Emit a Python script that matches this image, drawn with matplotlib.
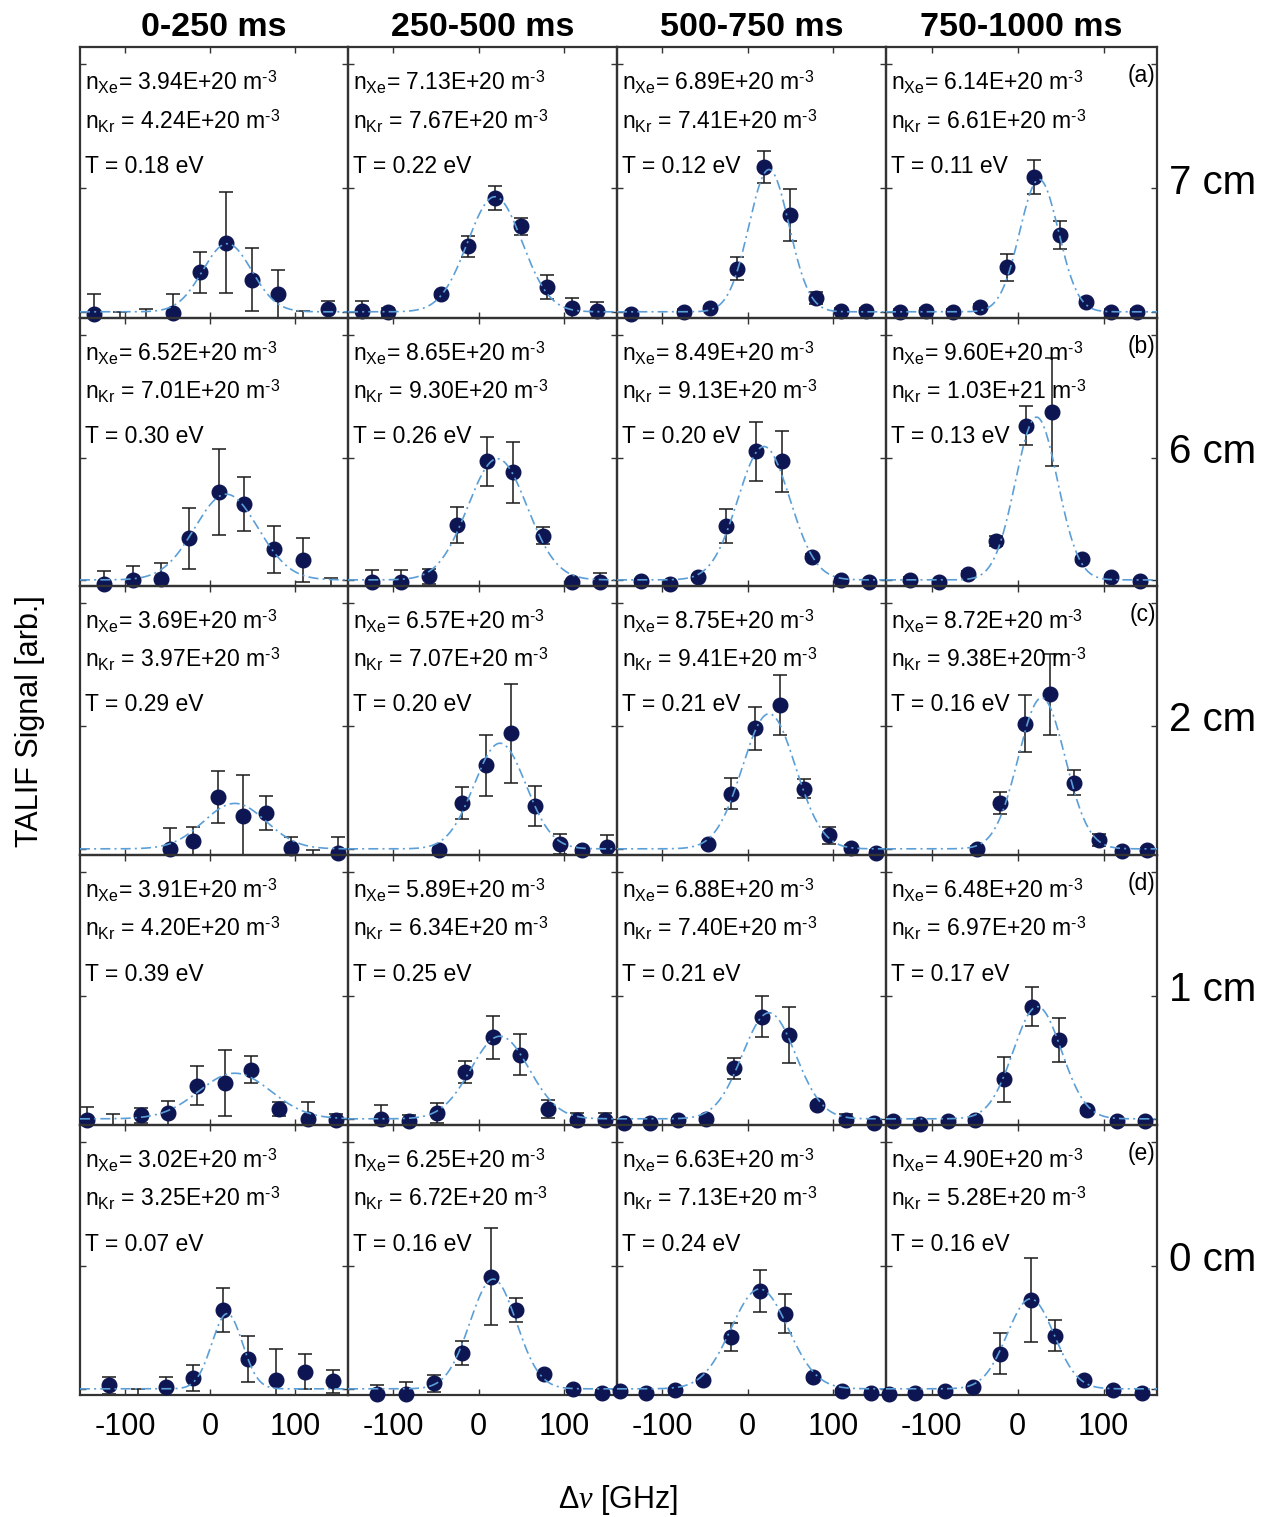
import numpy as np
import matplotlib.pyplot as plt

plt.rcParams['font.family'] = ['Liberation Sans', 'DejaVu Sans']
plt.rcParams['mathtext.fontset'] = 'custom'
plt.rcParams['mathtext.rm'] = 'Liberation Sans'
plt.rcParams['mathtext.it'] = 'Liberation Serif:italic'
plt.rcParams['mathtext.bf'] = 'Liberation Sans:bold'
plt.rcParams['axes.unicode_minus'] = False

windows = ['0-250 ms', '250-500 ms', '500-750 ms', '750-1000 ms']
positions = ['7 cm', '6 cm', '2 cm', '1 cm', '0 cm']
tags = ['(a)', '(b)', '(c)', '(d)', '(e)']

# fitted densities [m^-3] and temperatures [eV], rows = axial position
n_xe = [[3.94e20, 7.13e20, 6.89e20, 6.14e20],
        [6.52e20, 8.65e20, 8.49e20, 9.60e20],
        [3.69e20, 6.57e20, 8.75e20, 8.72e20],
        [3.91e20, 5.89e20, 6.88e20, 6.48e20],
        [3.02e20, 6.25e20, 6.63e20, 4.90e20]]
n_kr = [[4.24e20, 7.67e20, 7.41e20, 6.61e20],
        [7.01e20, 9.30e20, 9.13e20, 1.03e21],
        [3.97e20, 7.07e20, 9.41e20, 9.38e20],
        [4.20e20, 6.34e20, 7.40e20, 6.97e20],
        [3.25e20, 6.72e20, 7.13e20, 5.28e20]]
temp_ev = [[0.18, 0.22, 0.12, 0.11],
           [0.30, 0.26, 0.20, 0.13],
           [0.29, 0.20, 0.21, 0.16],
           [0.39, 0.25, 0.21, 0.17],
           [0.07, 0.16, 0.24, 0.16]]

nan = np.nan

# 7 cm
freq_7cm = [-137, -106, -75, -44, -12, 19, 49, 80, 109, 139]
sig_7cm = [[-0.02, -0.07, -0.07, -0.01, 0.32, 0.56, 0.26, 0.14, -0.06, 0.02],
           [0.01, 0.00, nan, 0.14, 0.53, 0.92, 0.69, 0.20, 0.03, 0.01],
           [-0.02, nan, 0.00, 0.03, 0.35, 1.17, 0.78, 0.11, 0.01, 0.01],
           [0.00, 0.01, 0.00, 0.04, 0.36, 1.09, 0.62, 0.08, 0.00, 0.00]]
err_7cm = [[0.16, 0.07, 0.09, 0.15, 0.165, 0.41, 0.255, 0.20, 0.07, 0.07],
           [0.08, 0.03, nan, 0.02, 0.085, 0.10, 0.07, 0.095, 0.08, 0.07],
           [0.02, nan, 0.02, 0.02, 0.09, 0.13, 0.21, 0.05, 0.02, 0.02],
           [0.02, 0.02, 0.02, 0.02, 0.11, 0.135, 0.11, 0.02, 0.02, 0.02]]

# 6 cm
freq_6cm = [-125, -91, -58, -25, 10, 40, 75, 109, 142]
sig_6cm = [[-0.03, 0.00, 0.01, 0.34, 0.72, 0.62, 0.25, 0.165, -0.06],
           [-0.02, -0.02, 0.03, 0.45, 0.97, 0.88, 0.36, -0.02, -0.02],
           [-0.01, -0.03, 0.02, 0.44, 1.05, 0.97, 0.19, 0.00, -0.02],
           [0.00, -0.02, 0.05, 0.32, 1.26, 1.37, 0.17, 0.02, -0.01]]
err_6cm = [[0.10, 0.11, 0.13, 0.25, 0.35, 0.22, 0.19, 0.18, 0.075],
           [0.10, 0.10, 0.06, 0.145, 0.20, 0.25, 0.07, 0.02, 0.08],
           [0.02, 0.02, 0.02, 0.14, 0.24, 0.25, 0.02, 0.02, 0.02],
           [0.02, 0.02, 0.02, 0.04, 0.16, 0.44, 0.02, 0.02, 0.02]]

# 2 cm
freq_2cm = [-47, -20, 9, 38, 66, 95, 121, 150]
sig_2cm = [[0.00, 0.06, 0.42, 0.27, 0.29, 0.01, -0.07, -0.035],
           [-0.01, 0.37, 0.68, 0.94, 0.35, 0.04, -0.01, 0.015],
           [0.036, 0.45, 0.98, 1.17, 0.49, 0.11, 0.01, -0.03],
           [0.00, 0.375, 1.02, 1.26, 0.54, 0.075, -0.02, -0.01]]
err_2cm = [[0.17, 0.12, 0.21, 0.33, 0.14, 0.09, 0.06, 0.13],
           [0.02, 0.13, 0.25, 0.40, 0.16, 0.08, 0.02, 0.095],
           [0.02, 0.125, 0.175, 0.245, 0.08, 0.07, 0.02, 0.02],
           [0.02, 0.09, 0.235, 0.33, 0.10, 0.05, 0.02, 0.02]]

# 1 cm
freq_1cm = [-145, -114, -81, -49, -16, 17, 48, 81, 115, 148]
sig_1cm = [[-0.01, -0.06, 0.03, 0.045, 0.27, 0.29, 0.40, 0.08, 0.00, -0.01],
           [nan, 0.00, -0.02, 0.045, 0.38, 0.66, 0.52, 0.08, -0.01, -0.01],
           [-0.03, -0.03, -0.01, 0.00, 0.41, 0.83, 0.68, 0.11, -0.01, -0.03],
           [-0.02, -0.04, -0.02, -0.01, 0.32, 0.91, 0.64, 0.07, -0.02, -0.02]]
err_1cm = [[0.11, 0.10, 0.06, 0.10, 0.155, 0.27, 0.11, 0.06, 0.14, 0.05],
           [nan, 0.11, 0.05, 0.08, 0.09, 0.175, 0.165, 0.075, 0.055, 0.055],
           [0.02, 0.02, 0.02, 0.02, 0.085, 0.17, 0.23, 0.02, 0.05, 0.02],
           [0.02, 0.02, 0.02, 0.02, 0.185, 0.16, 0.175, 0.02, 0.02, 0.02]]

# 0 cm
freq_0cm = [-150, -119, -85, -52, -20, 15, 44, 77, 111, 144]
sig_0cm = [[nan, 0.03, -0.07, 0.015, 0.087, 0.64, 0.24, 0.07, 0.14, 0.06],
           [nan, -0.045, -0.04, 0.046, 0.29, 0.91, 0.64, 0.12, -0.005, -0.03],
           [-0.02, -0.03, -0.01, 0.07, 0.42, 0.79, 0.61, 0.095, -0.02, -0.03],
           [-0.04, -0.03, -0.02, 0.015, 0.285, 0.72, 0.43, 0.07, -0.01, -0.03]]
err_0cm = [[nan, 0.07, 0.07, 0.08, 0.105, 0.175, 0.185, 0.25, 0.145, 0.09],
           [nan, 0.08, 0.095, 0.07, 0.10, 0.395, 0.10, 0.02, 0.02, 0.02],
           [0.02, 0.02, 0.02, 0.02, 0.11, 0.17, 0.16, 0.02, 0.02, 0.02],
           [0.02, 0.02, 0.02, 0.02, 0.165, 0.34, 0.125, 0.02, 0.02, 0.02]]

# Gaussian fit: line centre [GHz] and peak height
fit_x0 = [[20, 19, 25, 25],
          [19, 22, 19, 22],
          [29, 25, 25, 28],
          [29, 25, 25, 23],
          [20, 17, 14, 15]]
fit_amp = [[0.55, 0.93, 1.15, 1.07],
           [0.70, 0.99, 1.09, 1.33],
           [0.37, 0.86, 1.10, 1.23],
           [0.37, 0.67, 0.86, 0.91],
           [0.61, 0.89, 0.81, 0.73]]

freq = [freq_7cm, freq_6cm, freq_2cm, freq_1cm, freq_0cm]
sig = [sig_7cm, sig_6cm, sig_2cm, sig_1cm, sig_0cm]
err = [err_7cm, err_6cm, err_2cm, err_1cm, err_0cm]

DOPPLER = 68.0  # Gaussian sigma [GHz] per sqrt(eV)
XLIM = (-153, 162)
YLIM = (-0.05, 2.14)

W, H = 1271, 1517
col_px = [80, 348, 617, 886, 1157]
row_px = [47, 318, 586, 855, 1125, 1395]

fig = plt.figure(figsize=(W / 100, H / 100), dpi=100)

marker_c = '#0d1652'
fit_c = '#5b9fd8'
frame_c = '#333333'
HYPHEN = '\u2010'

for r in range(5):
    for c in range(4):
        left = col_px[c] / W
        bottom = 1 - row_px[r + 1] / H
        ax = fig.add_axes([left, bottom, (col_px[c + 1] - col_px[c]) / W,
                           (row_px[r + 1] - row_px[r]) / H])
        ax.set_facecolor('none')

        x = np.array(freq[r], float)
        y = np.array(sig[r][c], float)
        e = np.array(err[r][c], float)

        ax.errorbar(x, y, yerr=e, fmt='none', ecolor='#1a1a1a',
                    elinewidth=1.1, capsize=5, capthick=1.1, zorder=2)
        shown = y >= YLIM[0]
        ax.plot(x[shown], y[shown], 'o', ms=10.5, mfc=marker_c, mec=marker_c,
                clip_on=False, zorder=3)

        xx = np.linspace(XLIM[0], XLIM[1], 500)
        sigma = DOPPLER * np.sqrt(temp_ev[r][c])
        ax.plot(xx, fit_amp[r][c] * np.exp(-(xx - fit_x0[r][c]) ** 2 / (2 * sigma ** 2)),
                ls=(0, (6, 2.5, 1.2, 2.5)), color=fit_c, lw=1.2, zorder=4)

        ax.set_xlim(XLIM)
        ax.set_ylim(YLIM)
        ax.set_xticks([-100, 0, 100])
        ax.set_yticks([0, 1, 2])
        ax.tick_params(direction='in', top=True, right=True, length=4,
                       width=1, color=frame_c, labelleft=False,
                       labelbottom=(r == 4), labelsize=22, pad=12)
        for sp in ax.spines.values():
            sp.set_color(frame_c)
            sp.set_linewidth(1.6)

        unit = r' m$^{\rm %s3}$' % HYPHEN
        ax.text(0.02, 0.838, r'n$_{\rm Xe}$= ' + '%.2E' % n_xe[r][c] + unit,
                transform=ax.transAxes, fontsize=16.5, va='baseline')
        ax.text(0.02, 0.697, r'n$_{\rm Kr}$ = ' + '%.2E' % n_kr[r][c] + unit,
                transform=ax.transAxes, fontsize=16.5, va='baseline')
        ax.text(0.02, 0.535, 'T = %.2f eV' % temp_ev[r][c],
                transform=ax.transAxes, fontsize=16.5, va='baseline')
        if c == 3:
            ax.text(0.995, 0.87, tags[r], transform=ax.transAxes,
                    fontsize=16.5, ha='right', va='baseline')

for c, label in enumerate(windows):
    xc = (col_px[c] + col_px[c + 1]) / 2 / W
    fig.text(xc, 1 - 36 / H, label, ha='center', va='baseline',
             fontsize=24.5, fontweight='bold')

for r, label in enumerate(positions):
    yc = 1 - (row_px[r] + row_px[r + 1]) / 2 / H
    fig.text(1213 / W, yc, label, ha='center', va='center', fontsize=29)

fig.text((col_px[0] + col_px[-1]) / 2 / W, 1 - 1500 / H, r'$\Delta\nu$ [GHz]',
         ha='center', va='center', fontsize=22)
fig.text(30 / W, 1 - 721 / H, 'TALIF Signal [arb.]', rotation=90,
         ha='center', va='center', fontsize=22)

fig.savefig('out.png', dpi=100)
